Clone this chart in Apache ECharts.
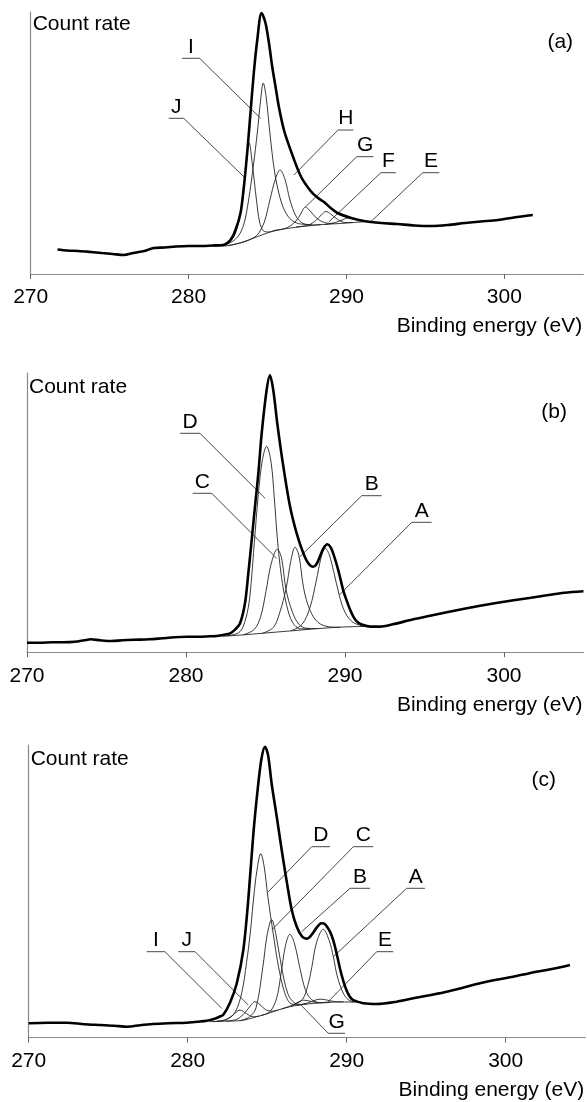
<!DOCTYPE html>
<html>
<head>
<meta charset="utf-8">
<script src="https://cdn.jsdelivr.net/npm/echarts@6/dist/echarts.min.js"></script>
<style>
  html, body { margin: 0; background: #fff; }
  #chart { width: 587px; height: 1102px; }
</style>
</head>
<body>
<div id="chart"></div>
<script>
// tick labels of the binding energy axis (eV)
const xTicks = [270, 280, 290, 300];

// ---------- panel (a) ----------  [binding energy eV, count rate a.u.]
const envA = [[271.7,24.5],[272.3,23.5],[273,23],[273.8,22],[274.5,21],[275.2,20],[275.9,19],[276.5,21],[277.2,23],[277.8,26],[278.5,26.5],[279.2,27.5],[280,28],[280.8,28],[281.5,28.5],[282.2,29],[282.65,34],[282.97,44],[283.29,61],[283.5,87],[283.71,121],[283.92,161],[284.13,201],[284.35,234],[284.62,261],[284.87,251],[285.09,231],[285.3,207],[285.51,187],[285.72,167],[286.04,144],[286.46,124],[287.1,98],[287.73,83],[288.2,76],[288.58,72],[289.0,66],[289.43,61],[290.3,56],[291.1,53],[292.2,51],[293.2,50],[294.3,48.5],[295.4,48],[296.4,49],[297.5,51],[298.5,52.5],[299.6,54],[300.6,56.5],[301.8,59]];
const bgA = [[281.5,28],[282.2,28],[282.9,29.5],[283.3,31.3],[283.8,34],[284.35,37.3],[284.9,40.5],[285.4,43.3],[286,45],[286.46,46],[287.1,47.3],[287.5,48],[288.5,49.5],[289.6,50.5],[290.5,51.5],[291.3,52.5]];
const peakJa = [[281.6,28],[282.4,30],[282.97,40.7],[283.4,74],[283.62,105],[283.84,131],[284.05,108],[284.3,74],[284.5,52],[284.75,43],[285.1,42],[285.6,44]];
const peakIa = [[281.6,28],[282.45,30],[283.1,37],[283.5,50],[283.8,74],[284.1,108],[284.35,141],[284.55,172],[284.73,191],[284.92,176],[285.15,141],[285.45,102],[285.83,74],[286.2,60],[286.6,53],[287.1,50],[287.8,49.5]];
const peakHa = [[282.5,28.5],[283.5,32],[284.2,37],[284.45,41],[284.8,52],[285.15,74],[285.5,95],[285.79,104],[286.1,95],[286.42,74],[286.8,58],[287.2,51],[287.8,49],[288.4,49.5]];
const peakGa = [[285.4,43.3],[286.2,46],[286.8,53],[287.1,60],[287.4,67],[287.7,63],[288.1,56],[288.6,51.5],[289.2,50.5]];
const peakFa = [[286.8,47],[287.6,49],[288.1,54],[288.4,59],[288.7,62.5],[289.0,60],[289.4,55],[289.9,51.5],[290.4,51.5]];
const peakEa = [[288.6,49.5],[289.3,51.5],[289.8,54.5],[290.1,56],[290.5,55],[290.9,53.5],[291.4,52.5]];
const labelsA = [
  { t: 'I', path: [[279.59,215.7],[280.70,215.7],[284.56,155.7]] },
  { t: 'J', path: [[278.74,155.7],[279.69,155.7],[283.60,95.7]] },
  { t: 'H', path: [[290.44,144],[289.47,144],[286.67,99]] },
  { t: 'G', path: [[291.71,117.3],[290.65,117.3],[287.42,67.3]] },
  { t: 'F', path: [[293.13,101.3],[292.18,101.3],[288.90,52.3]] },
  { t: 'E', path: [[295.88,101.3],[294.83,101.3],[291.54,52.3]] }
];
const tagA = [303.54, 232];

// ---------- panel (b) ----------
const envB = [[270.0,9.5],[270.8,9.5],[271.6,10],[272.3,10],[273.0,10.5],[273.6,12],[274.0,13],[274.6,12],[275.3,11.3],[276.0,12],[276.7,12.5],[277.7,13],[278.5,14],[279.3,15],[280.06,15.5],[280.8,15.5],[281.5,16],[281.93,16.3],[282.4,17.5],[282.77,19],[283.1,23],[283.4,29],[283.71,49],[283.92,79],[284.13,112],[284.34,146],[284.55,179],[284.76,219],[285.07,262],[285.28,277],[285.49,262],[285.74,229],[286.12,186],[286.54,146],[286.96,119],[287.38,99],[287.69,89],[288.0,85.5],[288.2,88],[288.43,96],[288.65,104],[288.89,108],[289.1,105],[289.3,97],[289.58,82],[289.89,62],[290.1,52],[290.31,43],[290.55,35],[290.8,30],[291.1,27.5],[291.6,25.7],[292.2,25.7],[293,28],[294.3,33],[295.5,37],[296.4,40],[297.5,43.5],[298.5,46.5],[299.6,49.5],[300.6,52],[301.7,54.5],[302.7,57],[303.8,59.5],[305.0,61]];
const bgB = [[282.3,16],[283.5,17.3],[285,19.3],[286.5,21.3],[288,23.3],[289.5,25],[290.5,25.6],[291.4,26]];
const peakDb = [[282.6,16.5],[283.3,19.5],[283.6,26],[283.92,45],[284.1,70],[284.3,110],[284.55,158],[284.8,192],[285.07,206],[285.35,190],[285.55,155],[285.74,115],[286.0,76],[286.33,47],[286.7,30],[287.2,23.5],[287.8,23.5]];
const peakCb = [[283.6,17.5],[284.3,23],[284.7,36],[285.03,61],[285.35,88],[285.74,103],[286.0,95],[286.3,62],[286.7,40],[287.1,28],[287.6,24],[288.3,23.8]];
const peakBb = [[284.8,19],[285.5,25],[285.9,40],[286.3,64],[286.6,92],[286.86,105],[287.1,97],[287.4,64],[287.8,42],[288.3,30],[289,25.5],[289.7,25]];
const peakAb = [[286.6,21.5],[287.3,28],[287.8,45],[288.2,72],[288.5,95],[288.75,104],[289.0,98],[289.3,80],[289.64,57],[290.0,40],[290.5,30],[291.2,26]];
const labelsB = [
  { t: 'D', path: [[279.62,219],[280.88,219],[284.97,154]] },
  { t: 'C', path: [[280.42,159],[281.62,159],[285.70,94]] },
  { t: 'B', path: [[292.31,156.6],[291.05,156.6],[287.17,95.6]] },
  { t: 'A', path: [[295.45,130],[294.20,130],[289.64,57.3]] }
];
const tagB = [303.15, 240];

// ---------- panel (c) ----------
const envC = [[270.0,14.4],[271.2,15],[272.4,15],[273.5,13.5],[274.5,12.7],[275.4,12],[276.2,11],[277.0,12.5],[277.8,13.7],[278.8,14.5],[279.9,15],[280.6,16],[281.2,17],[281.7,19],[282.0,21],[282.24,23],[282.66,35],[283.08,54],[283.5,88],[283.81,138],[284.13,204],[284.44,254],[284.65,280],[284.86,291],[285.05,283],[285.28,254],[285.6,221],[285.91,188],[286.23,156],[286.54,128],[286.86,111],[287.2,101],[287.5,99],[287.8,103],[288.11,110],[288.4,114.5],[288.6,114],[288.95,106],[289.16,97],[289.37,84],[289.58,69],[289.8,56],[290.0,47],[290.2,41],[290.42,37.5],[291.04,34.5],[291.89,33.7],[293.14,36],[294.19,39.4],[295.2,42.5],[296.29,46],[297.3,50],[298.38,54.4],[299.4,58],[300.48,61],[301.5,64.5],[302.58,67.7],[303.3,70],[304.04,72.7]];
const bgC = [[281.4,16],[282.3,16.5],[283.3,17],[283.9,19],[284.34,21],[284.9,23.5],[285.38,26],[285.9,28.7],[286.43,31],[287.0,32.7],[287.48,33.7],[288.5,35],[289.58,35.8],[290.5,35.5]];
const peakDc = [[281.8,16.5],[282.5,18.5],[283.0,26],[283.4,45],[283.7,75],[283.93,104],[284.2,148],[284.4,172],[284.59,184],[284.8,172],[285.05,140],[285.38,104],[285.7,72],[286.1,45],[286.5,34],[287.0,33],[287.5,33.7]];
const peakCc = [[283.3,17],[283.9,21],[284.3,30],[284.72,70],[285.0,103],[285.28,118],[285.55,103],[285.91,70],[286.3,44],[286.7,35],[287.2,33]];
const peakBc = [[284.6,22],[285.2,26.5],[285.6,40],[285.85,62],[286.15,92],[286.43,103.4],[286.7,95],[287.08,68],[287.4,48],[287.8,38],[288.4,35],[289.0,35.5]];
const peakAc = [[286.5,31.5],[287.2,38],[287.55,52],[287.8,70],[288.1,95],[288.53,108.4],[288.9,97],[289.16,81],[289.4,62],[289.8,44],[290.2,37],[290.8,35.5]];
const peakIc = [[281.6,16],[282.3,17.5],[282.8,22],[283.29,27.7],[283.7,24],[284.1,21],[284.5,21.5]];
const peakJc = [[282.4,16.5],[283.1,18.5],[283.6,25],[284.0,33],[284.23,36],[284.55,33],[284.9,28],[285.3,26.5],[285.7,27.8]];
const peakGc = [[285.9,28.7],[286.5,32],[287.0,36],[287.3,37.5],[287.7,36.5],[288.2,35],[288.8,35.5]];
const peakEc = [[286.9,32.5],[287.6,35],[288.1,38],[288.4,38.5],[288.8,37.5],[289.3,36],[289.8,35.8]];
const labelsC = [
  { t: 'I', path: [[277.42,86],[278.57,86],[282.14,29.4]] },
  { t: 'J', path: [[279.41,86],[280.46,86],[283.81,32.7]] },
  { t: 'D', path: [[288.95,191],[287.80,191],[285.07,146]] },
  { t: 'C', path: [[291.67,191],[290.42,191],[285.28,107.7]] },
  { t: 'B', path: [[291.47,149.4],[290.21,149.4],[287.17,106]] },
  { t: 'A', path: [[294.92,149.4],[293.77,149.4],[289.16,81]] },
  { t: 'E', path: [[292.93,86],[291.89,86],[288.74,34.4]] },
  { t: 'G', path: [[289.89,4.4],[288.84,4.4],[287.06,33.7]] }
];
const tagC = [302.4, 257.7];

const FONT = '"Liberation Sans", Arial, Helvetica, sans-serif';

const panels = [
  { tag: '(a)', tagPos: tagA, env: envA, bg: bgA, comps: [peakJa, peakIa, peakHa, peakGa, peakFa, peakEa], labels: labelsA,
    grid: { left: 30.7, top: 12, width: 552.6, height: 262 }, yMax: 262, nameGap: -12 },
  { tag: '(b)', tagPos: tagB, env: envB, bg: bgB, comps: [peakDb, peakCb, peakBb, peakAb], labels: labelsB,
    grid: { left: 27, top: 373, width: 556.5, height: 279.3 }, yMax: 279.3, nameGap: -14 },
  { tag: '(c)', tagPos: tagC, env: envC, bg: bgC, comps: [peakDc, peakCc, peakBc, peakAc, peakIc, peakJc, peakGc, peakEc], labels: labelsC,
    grid: { left: 28.7, top: 745, width: 556.5, height: 292.7 }, yMax: 292.7, nameGap: -14 }
];

const grids = [], xAxes = [], yAxes = [], series = [];

panels.forEach((p, i) => {
  grids.push(Object.assign({ containLabel: false, outerBoundsMode: 'none' }, p.grid));
  xAxes.push({
    type: 'value', gridIndex: i, min: 270, max: 305, interval: 10,
    axisLine: { show: true, lineStyle: { color: '#8a8a8a', width: 1.2 } },
    axisTick: { show: true, length: 5, customValues: xTicks, lineStyle: { color: '#666' } },
    axisLabel: { customValues: xTicks, fontSize: 21, color: '#000', margin: 13, fontFamily: FONT },
    splitLine: { show: false },
    name: 'Binding energy (eV)', nameLocation: 'end', nameGap: -1,
    nameTextStyle: { fontSize: 21, color: '#000', fontFamily: FONT, align: 'right', verticalAlign: 'top', padding: [42, 0, 0, 0] }
  });
  yAxes.push({
    type: 'value', gridIndex: i, min: 0, max: p.yMax,
    axisLine: { show: true, lineStyle: { color: '#8a8a8a', width: 1.2 } },
    axisTick: { show: false }, axisLabel: { show: false }, splitLine: { show: false },
    name: 'Count rate', nameLocation: 'end', nameGap: p.nameGap,
    nameTextStyle: { fontSize: 21, color: '#000', fontFamily: FONT, align: 'left', verticalAlign: 'middle', padding: [0, 0, 0, 2] }
  });

  const thin = { color: '#222', width: 0.9 };
  series.push({ type: 'line', xAxisIndex: i, yAxisIndex: i, data: p.bg, showSymbol: false, smooth: 0.35, lineStyle: thin, silent: true, z: 2 });
  p.comps.forEach(c => {
    series.push({ type: 'line', xAxisIndex: i, yAxisIndex: i, data: c, showSymbol: false, smooth: 0.35, lineStyle: thin, silent: true, z: 2 });
  });
  series.push({ type: 'line', xAxisIndex: i, yAxisIndex: i, data: p.env, showSymbol: false, smooth: 0.3,
    lineStyle: { color: '#000', width: 2.6 }, silent: true, z: 4 });

  // label leaders: underline then a slanted line to the peak
  p.labels.forEach(l => {
    series.push({ type: 'line', xAxisIndex: i, yAxisIndex: i, data: l.path, showSymbol: false, smooth: false,
      lineStyle: { color: '#333', width: 0.9 }, silent: true, z: 3 });
  });
  series.push({
    type: 'scatter', xAxisIndex: i, yAxisIndex: i, symbolSize: 0, silent: true, z: 5,
    itemStyle: { opacity: 1 },
    data: p.labels.map(l => ({ value: [(l.path[0][0] + l.path[1][0]) / 2, l.path[0][1]], label: { formatter: l.t } })),
    label: { show: true, position: 'top', distance: 1, fontSize: 21, color: '#000', opacity: 1, fontFamily: FONT }
  });
  series.push({
    type: 'scatter', xAxisIndex: i, yAxisIndex: i, symbolSize: 0, silent: true, z: 5,
    itemStyle: { opacity: 1 },
    data: [{ value: p.tagPos, label: { formatter: p.tag } }],
    label: { show: true, position: 'inside', fontSize: 21, color: '#000', opacity: 1, fontFamily: FONT }
  });
});

const chart = echarts.init(document.getElementById('chart'));
chart.setOption({
  animation: false,
  backgroundColor: '#fff',
  textStyle: { fontFamily: FONT },
  grid: grids,
  xAxis: xAxes,
  yAxis: yAxes,
  series: series
});
</script>
</body>
</html>
